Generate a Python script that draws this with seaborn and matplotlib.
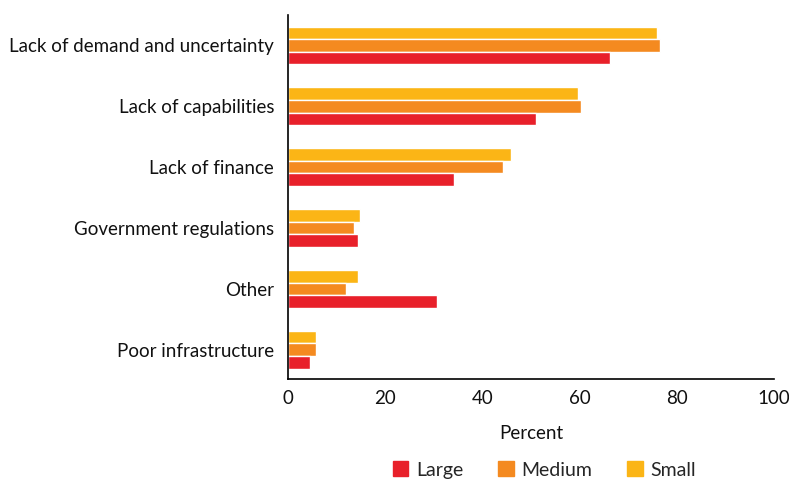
import matplotlib
matplotlib.use('Agg')
import matplotlib.pyplot as plt
from matplotlib.patches import Patch
import pandas as pd
import seaborn as sns

categories = ["Lack of demand and uncertainty", "Lack of capabilities", "Lack of finance",
              "Government regulations", "Other", "Poor infrastructure"]
large = [66.3, 51.1, 34.2, 14.5, 30.7, 4.5]
medium = [76.5, 60.3, 44.2, 13.6, 12.0, 5.8]
small = [76.0, 59.6, 45.9, 14.9, 14.5, 5.8]

sizes = ["Small", "Medium", "Large"]
colors = {"Large": "#e8202a", "Medium": "#f48a20", "Small": "#fbb516"}

df = pd.DataFrame({
    "reason": categories * 3,
    "size": ["Large"] * 6 + ["Medium"] * 6 + ["Small"] * 6,
    "pct": large + medium + small,
})

sns.set_style("white")
plt.rcParams['font.family'] = ['Lato', 'DejaVu Sans']

fig = plt.figure(figsize=(7.89, 4.84), dpi=100)
ax = fig.add_axes([0.365, 0.217, 0.616, 0.752])

sns.barplot(data=df, y="reason", x="pct", hue="size", hue_order=sizes,
            order=categories, palette=colors, width=0.62, orient="h",
            ax=ax, legend=False, saturation=1)

ax.set_xlim(0, 100)
ax.set_ylim(5.48, -0.5)
ax.set_xticks([0, 20, 40, 60, 80, 100])
ax.set_ylabel("")
ax.set_xlabel("Percent", fontsize=13.5, labelpad=13, color="#111111")
ax.tick_params(axis="both", length=0, labelsize=13.5, colors="#111111")
ax.tick_params(axis="x", pad=8)
ax.tick_params(axis="y", pad=10)
for s in ["top", "right"]:
    ax.spines[s].set_visible(False)
for s in ["left", "bottom"]:
    ax.spines[s].set_color("black")
    ax.spines[s].set_linewidth(1.2)

handles = [Patch(color=colors[k]) for k in ["Large", "Medium", "Small"]]
fig.legend(handles, ["Large", "Medium", "Small"], loc="lower center",
           bbox_to_anchor=(0.69, -0.025), ncol=3, frameon=False, fontsize=14,
           handlelength=0.8, handleheight=0.8, columnspacing=1.8, handletextpad=0.4)

plt.savefig("out.png", dpi=100)
